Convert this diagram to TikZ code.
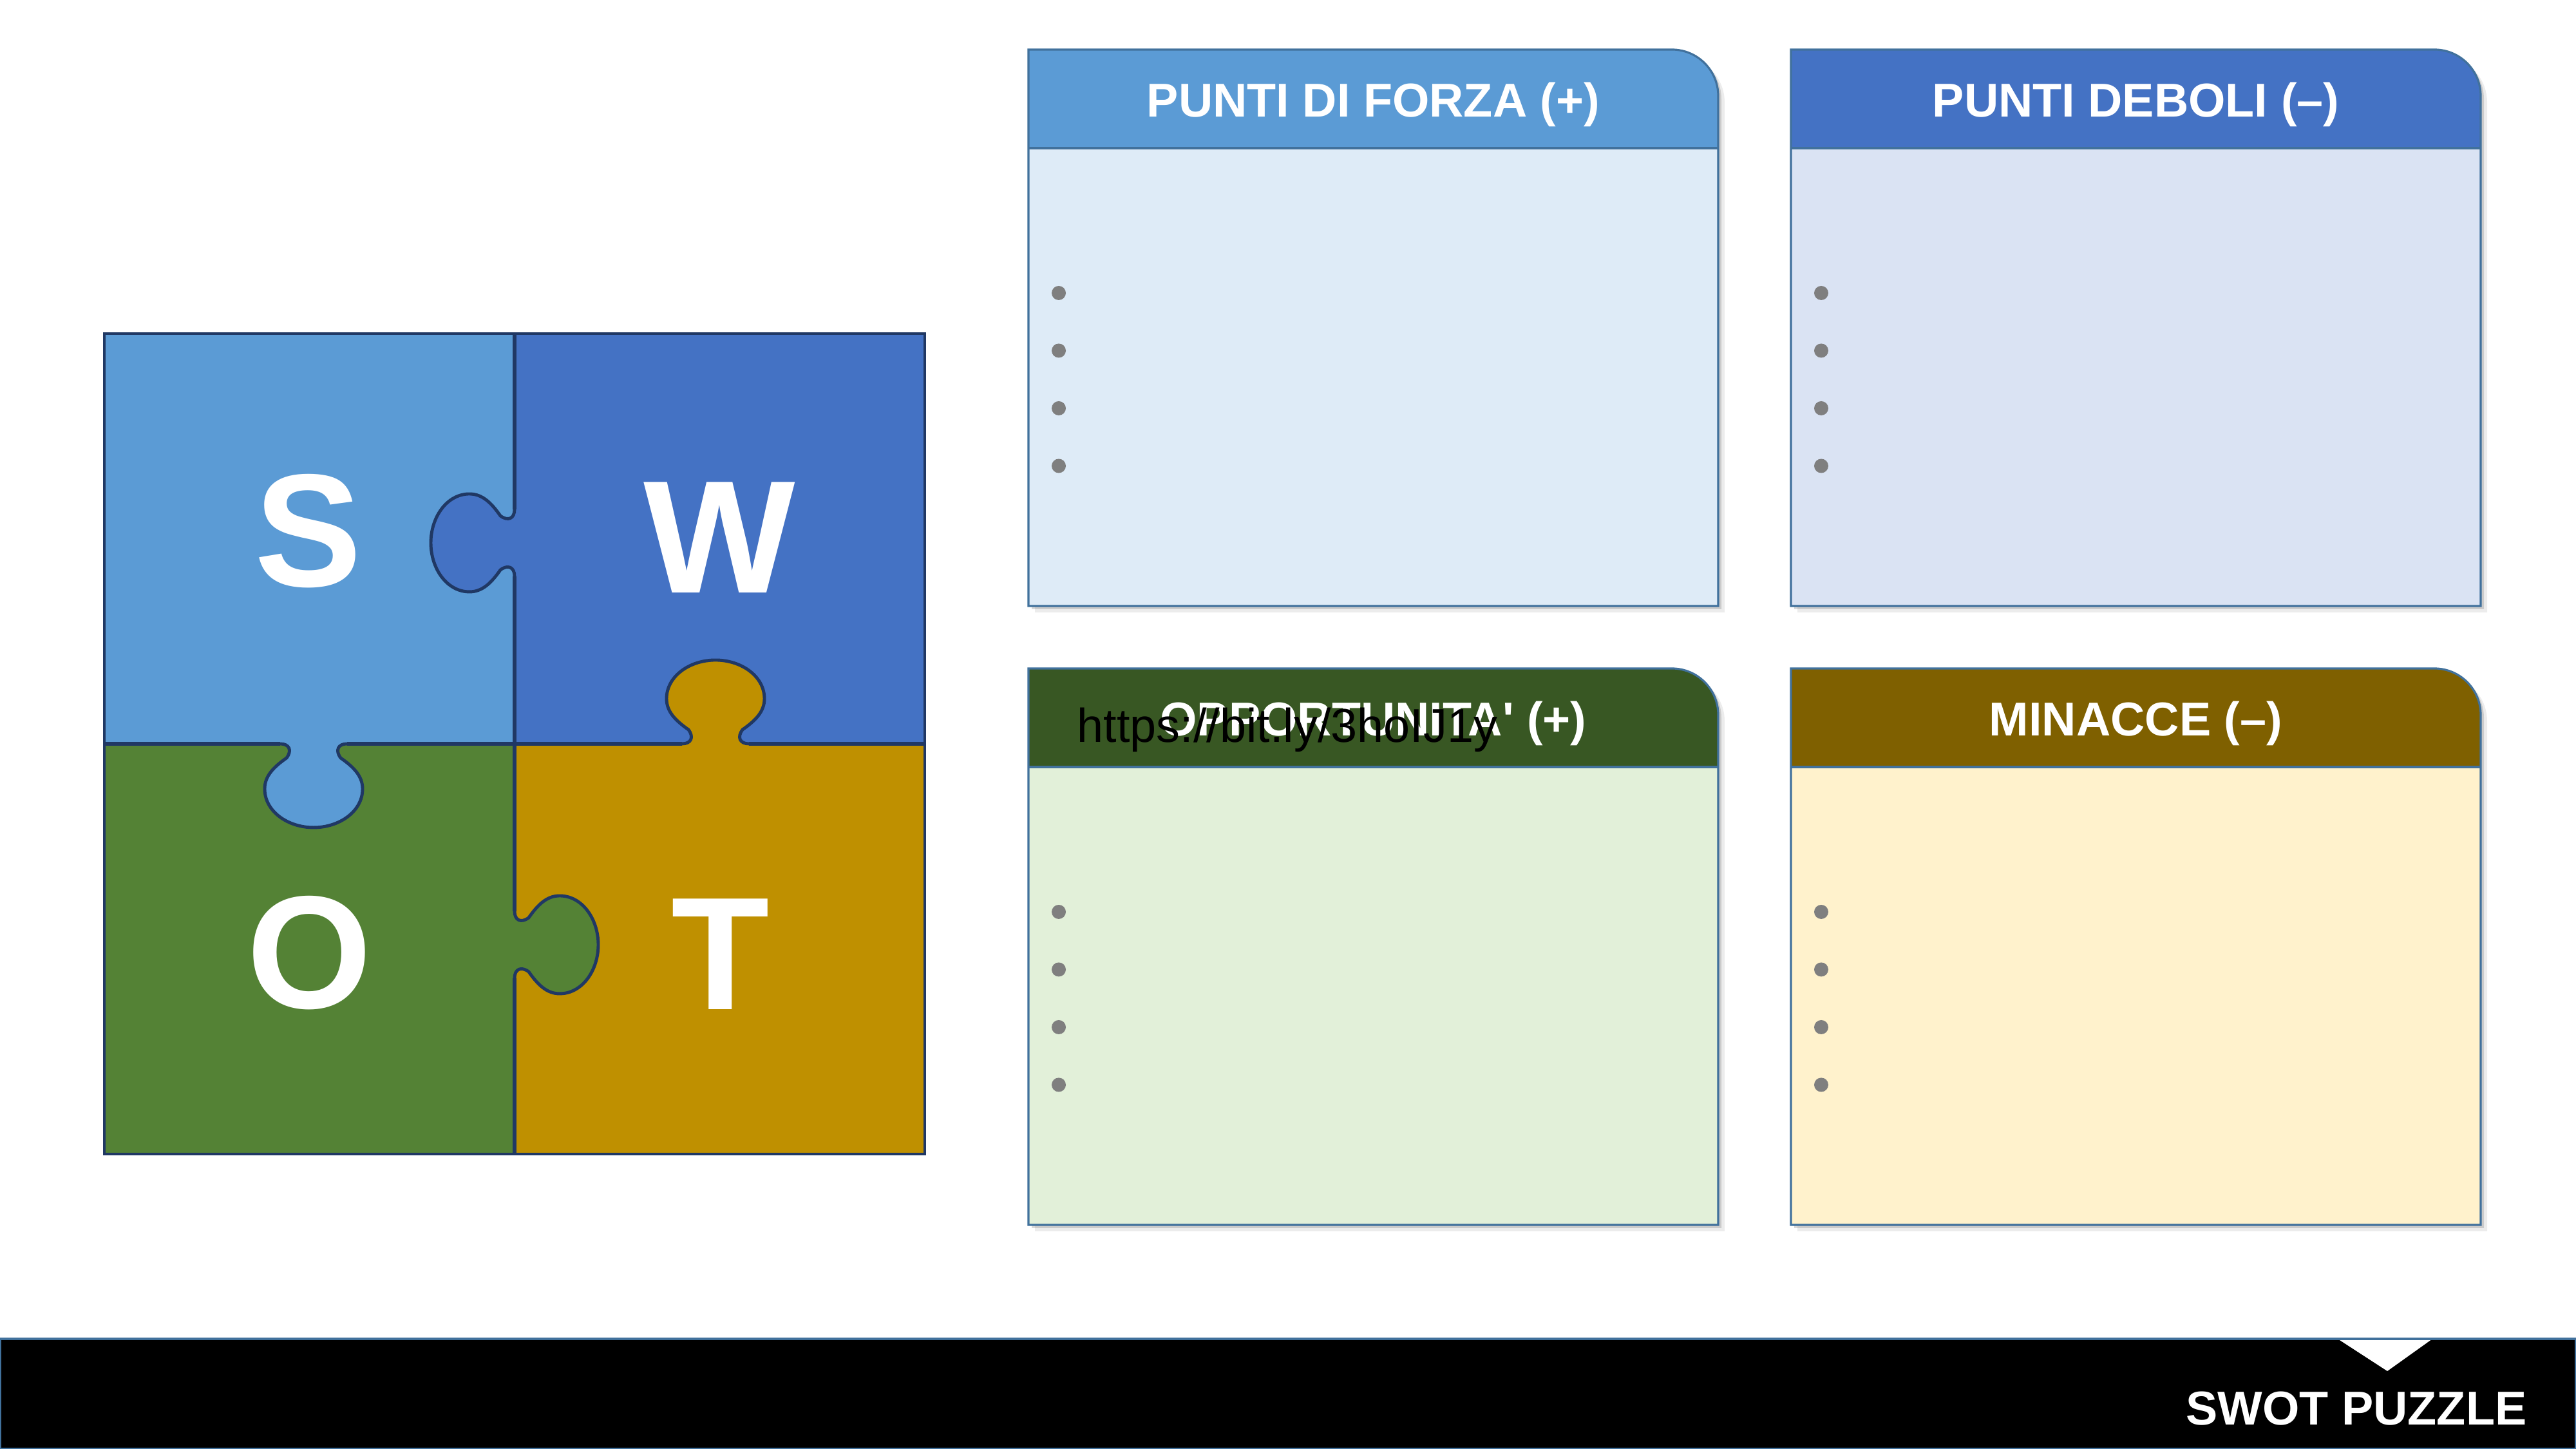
\documentclass[tikz,border=0pt]{standalone}
\usepackage{fontspec}
\setmainfont{Liberation Sans}
\usetikzlibrary{shadows}
\definecolor{pzS}{HTML}{5B9BD5}
\definecolor{pzW}{HTML}{4472C4}
\definecolor{pzO}{HTML}{548235}
\definecolor{pzT}{HTML}{BF9000}
\definecolor{pzline}{HTML}{203864}
\definecolor{headO}{HTML}{385723}
\definecolor{headT}{HTML}{7F6000}
\definecolor{bodyS}{HTML}{DEEBF7}
\definecolor{bodyW}{HTML}{DAE3F3}
\definecolor{bodyO}{HTML}{E2F0D9}
\definecolor{bodyT}{HTML}{FFF2CC}
\definecolor{cardborder}{HTML}{41719C}
\definecolor{bulletgray}{HTML}{7F7F7F}

% #1 name, #2 left, #3 top, #4 header colour, #5 body colour, #6 title
\newcommand{\swotcard}[6]{%
 \fill[#5, cardshadow] (#2,#3-8.64) -- (#2,#3) -- (#2+9.99,#3) arc[start angle=90, end angle=0, radius=0.72] -- (#2+10.71,#3-8.64) -- cycle;
 \fill[#4] (#2,#3-1.53) -- (#2,#3) -- (#2+9.99,#3) arc[start angle=90, end angle=0, radius=0.72] -- (#2+10.71,#3-1.53) -- cycle;
 \draw[cardline] (#2,#3-8.64) -- (#2,#3) -- (#2+9.99,#3) arc[start angle=90, end angle=0, radius=0.72] -- (#2+10.71,#3-8.64) -- cycle;
 \draw[cardline] (#2,#3-1.53) -- (#2+10.71,#3-1.53);
 \node[cardtitle] (#1) at (#2+5.355,#3-1.05) {#6};
 \foreach \k in {0,...,3}
  \fill[bulletgray] (#2+0.47,#3-3.78-0.895*\k) circle (0.11);
}

\begin{document}
\begin{tikzpicture}[
  letter/.style={text=white, font=\bfseries\fontsize{71}{71}\selectfont, inner sep=0pt},
  cardtitle/.style={text=white, font=\bfseries\fontsize{21}{25}\selectfont, inner sep=0pt, anchor=base},
  cardline/.style={draw=cardborder, line width=0.9pt},
  cardshadow/.style={drop shadow={shadow xshift=0.1cm, shadow yshift=-0.1cm, opacity=0.15},
                     drop shadow={shadow xshift=0.05cm, shadow yshift=-0.05cm, opacity=0.3}},
  pzedge/.style={draw=pzline, line width=1.8pt},
  knob/.pic={
   \path[fill=#1, draw=pzline, line width=1.4pt]
    (-0.52,0) .. controls (-0.38,0) and (-0.33,0.10) .. (-0.42,0.22)
    .. controls (-0.62,0.36) and (-0.76,0.50) .. (-0.76,0.70)
    .. controls (-0.76,1.05) and (-0.40,1.30) .. (0,1.30)
    .. controls (0.40,1.30) and (0.76,1.05) .. (0.76,0.70)
    .. controls (0.76,0.50) and (0.62,0.36) .. (0.42,0.22)
    .. controls (0.33,0.10) and (0.38,0) .. (0.52,0);
  }
 ]
 \useasboundingbox (0,0) rectangle (40,22.5);

 % puzzle
 \begin{scope}[shift={(7.99,10.95)}]
  \fill[pzS] (-6.37,0) rectangle (0,6.37);
  \fill[pzW] (0,0) rectangle (6.37,6.37);
  \fill[pzO] (-6.37,-6.37) rectangle (0,0);
  \fill[pzT] (0,-6.37) rectangle (6.37,0);
  \pic[rotate=90] at (0,3.12) {knob=pzW};
  \pic[rotate=180] at (-3.12,0) {knob=pzS};
  \pic at (3.12,0) {knob=pzT};
  \pic[rotate=-90] at (0,-3.12) {knob=pzO};
  \draw[pzedge] (0,6.37) -- (0,3.64) (0,2.60) -- (0,-2.60) (0,-3.64) -- (0,-6.37);
  \draw[pzedge] (-6.37,0) -- (-3.64,0) (-2.60,0) -- (2.60,0) (3.64,0) -- (6.37,0);
  \draw[draw=pzline, line width=1.3pt] (-6.37,-6.37) rectangle (6.37,6.37);
  \node[letter] (S) at (-3.2,3.3) {S};
  \node[letter] (W) at (3.18,3.2) {W};
  \node[letter] (O) at (-3.18,-3.25) {O};
  \node[letter] (T) at (3.2,-3.27) {T};
 \end{scope}

 % cards
 \swotcard{forza}{15.97}{21.73}{pzS}{bodyS}{PUNTI DI FORZA (+)}
 \swotcard{deboli}{27.81}{21.73}{pzW}{bodyW}{PUNTI DEBOLI (–)}
 \swotcard{opport}{15.97}{12.12}{headO}{bodyO}{OPPORTUNITA\textquotesingle{} (+)}
 \swotcard{minacce}{27.81}{12.12}{headT}{bodyT}{MINACCE (–)}
 \node[font=\fontsize{21}{25}\selectfont, inner sep=0pt, anchor=base west] (link) at (16.72,10.97) {https://bit.ly/3hoIJ1y};

 % footer bar
 \fill[black] (0,0) rectangle (40,1.71);
 \fill[white] (36.30,1.71) -- (37.77,1.71) -- (37.07,1.21) -- cycle;
 \draw[cardline] (0,0) rectangle (40,1.71);
 \node[cardtitle, anchor=base east] (bartitle) at (39.24,0.37) {SWOT PUZZLE};
\end{tikzpicture}
\end{document}
